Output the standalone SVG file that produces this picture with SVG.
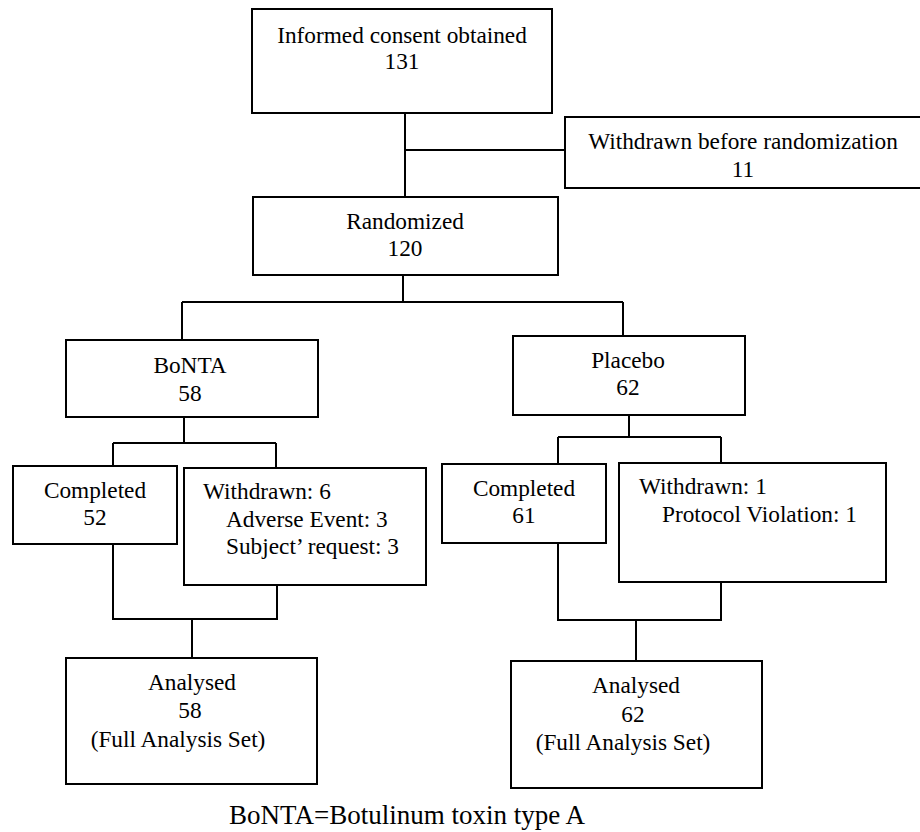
<svg xmlns="http://www.w3.org/2000/svg" width="920" height="832" viewBox="0 0 920 832">
<style>
.box{fill:#fff;stroke:#000;stroke-width:2}
.ln{fill:none;stroke:#000;stroke-width:2}
text{font-family:"Liberation Serif","Times New Roman",serif;font-size:23.3px;fill:#000}
.c{text-anchor:middle}
</style>
<rect width="920" height="832" fill="#fff"/>
<g id="connectors">
<path class="ln" d="M405 113V197M405 150H565"/>
<path class="ln" d="M403 275V302M182 302H623M182 302V340M623 302V336"/>
<path class="ln" d="M184 417V443M113 443H276M113 443V466M276 443V468"/>
<path class="ln" d="M113 544V619H277V585M192 619V658"/>
<path class="ln" d="M629 415V437M558 437H721M558 437V464M721 437V463"/>
<path class="ln" d="M558 543V620H721V582M636 620V661"/>
</g>
<g id="consent"><rect class="box" x="252" y="9" width="300" height="104"/>
<text class="c" x="402" y="43">Informed consent obtained</text><text class="c" x="402" y="69">131</text></g>
<g id="withdrawn-before"><rect class="box" x="565" y="117" width="360" height="71"/>
<text class="c" x="743" y="149">Withdrawn before randomization</text><text class="c" x="743" y="177">11</text></g>
<g id="randomized"><rect class="box" x="253" y="197" width="305" height="78"/>
<text class="c" x="405" y="229">Randomized</text><text class="c" x="405" y="256">120</text></g>
<g id="bonta"><rect class="box" x="66" y="340" width="252" height="77"/>
<text class="c" x="190" y="373">BoNTA</text><text class="c" x="190" y="401">58</text></g>
<g id="placebo"><rect class="box" x="513" y="336" width="232" height="79"/>
<text class="c" x="628" y="368">Placebo</text><text class="c" x="628" y="395">62</text></g>
<g id="completed-bonta"><rect class="box" x="13" y="466" width="164" height="78"/>
<text class="c" x="95" y="498">Completed</text><text class="c" x="95" y="525">52</text></g>
<g id="withdrawn-bonta"><rect class="box" x="184" y="468" width="242" height="117"/>
<text x="203" y="499">Withdrawn: 6</text><text x="226" y="527">Adverse Event: 3</text><text x="226" y="554">Subject’ request: 3</text></g>
<g id="completed-placebo"><rect class="box" x="442" y="464" width="164" height="79"/>
<text class="c" x="524" y="496">Completed</text><text class="c" x="524" y="523">61</text></g>
<g id="withdrawn-placebo"><rect class="box" x="619" y="463" width="267" height="119"/>
<text x="639" y="494">Withdrawn: 1</text><text x="662" y="522">Protocol Violation: 1</text></g>
<g id="analysed-bonta"><rect class="box" x="66" y="658" width="251" height="126"/>
<text class="c" x="192" y="690">Analysed</text><text class="c" x="190" y="718">58</text><text class="c" x="178" y="747">(Full Analysis Set)</text></g>
<g id="analysed-placebo"><rect class="box" x="511" y="661" width="251" height="127"/>
<text class="c" x="636" y="693">Analysed</text><text class="c" x="633" y="722">62</text><text class="c" x="623" y="750">(Full Analysis Set)</text></g>
<text class="c" x="407" y="824" style="font-size:27px">BoNTA=Botulinum toxin type A</text>
</svg>
